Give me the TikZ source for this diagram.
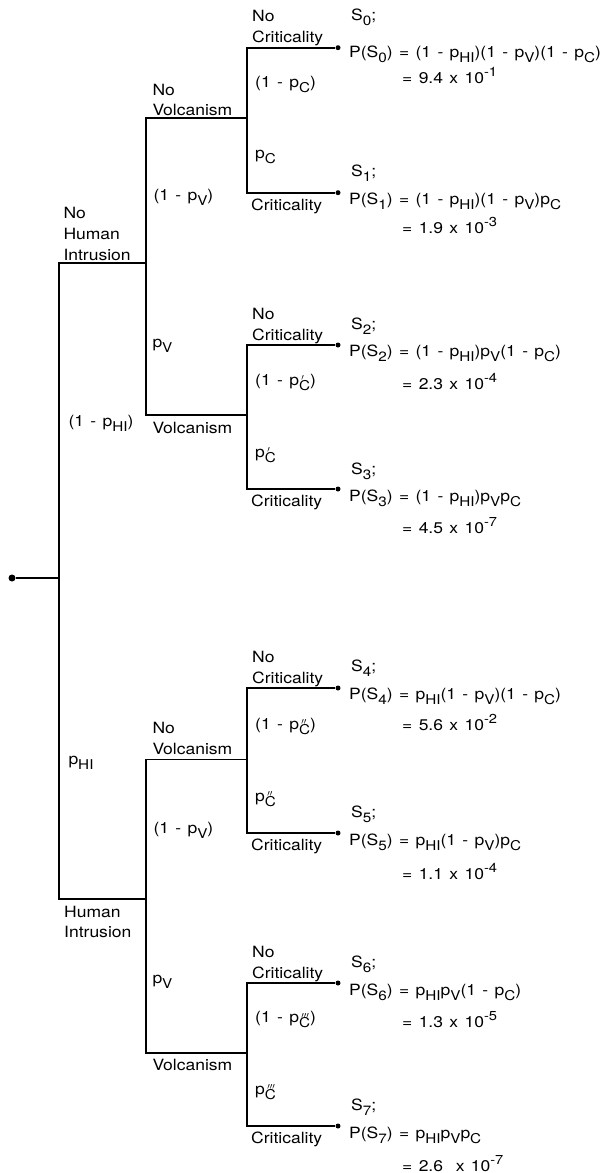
\documentclass[tikz,border=0pt]{standalone}
\usepackage{fontspec}
\setmainfont{TeX Gyre Heros}[FakeStretch=1.13, WordSpace=1.3]
\newcommand{\lsub}[1]{\raisebox{-0.34em}{\fontsize{13.5}{13.5}\selectfont #1}}
\newcommand{\lsup}[1]{\raisebox{0.42em}{\fontsize{13}{13}\selectfont #1}}
\newcommand{\pmark}[1]{p\lsub{\makebox[0pt][l]{\hspace{0.18em}\raisebox{0.7em}{$\scriptstyle #1$}}C}}
\begin{document}
\begin{tikzpicture}[x=1pt,y=-1pt,
  txt/.style={anchor=base west, inner sep=0pt, font=\fontsize{15.5}{18}\selectfont},
  leaf/.style={circle, fill=black, inner sep=0pt, minimum size=5pt},
  rootdot/.style={circle, fill=black, inner sep=0pt, minimum size=7pt},
  branch/.style={draw=black, line width=1.8pt}]
\fill[white] (0,0) rectangle (603,1173);
\useasboundingbox (0,0) rectangle (603,1173);

% tree skeleton
\node[rootdot] (root) at (12,578) {};
\coordinate (j0) at (59.3,578);
\coordinate (hiN) at (145.7,263);
\coordinate (hiY) at (145.7,899);
\coordinate (vN0) at (246.7,118);
\coordinate (vY0) at (246.7,415);
\coordinate (vN1) at (246.7,759.5);
\coordinate (vY1) at (246.7,1053);
\node[leaf] (s0) at (338,47.7) {};
\node[leaf] (s1) at (338,192.7) {};
\node[leaf] (s2) at (338,345) {};
\node[leaf] (s3) at (338,489) {};
\node[leaf] (s4) at (338,688) {};
\node[leaf] (s5) at (338,833) {};
\node[leaf] (s6) at (338,983) {};
\node[leaf] (s7) at (338,1126) {};

\draw[branch] (root) -- (j0);
\draw[branch] (j0) |- (hiN);
\draw[branch] (j0) |- (hiY);
\draw[branch] (hiN) |- (vN0);
\draw[branch] (hiN) |- (vY0);
\draw[branch] (hiY) |- (vN1);
\draw[branch] (hiY) |- (vY1);
\draw[branch] (vN0) |- (s0);
\draw[branch] (vN0) |- (s1);
\draw[branch] (vY0) |- (s2);
\draw[branch] (vY0) |- (s3);
\draw[branch] (vN1) |- (s4);
\draw[branch] (vN1) |- (s5);
\draw[branch] (vY1) |- (s6);
\draw[branch] (vY1) |- (s7);

% human intrusion level
\node[txt] (tNHIa) at (63.3,218) {No};
\node[txt] (tNHIb) at (63.3,239) {Human};
\node[txt] (tNHIc) at (63.3,260) {Intrusion};
\node[txt] (tpNHI) at (68.3,426.7) {(1 - p\lsub{HI})};
\node[txt] (tpHI) at (68.3,764) {p\lsub{HI}};
\node[txt] (tHIa) at (64,917) {Human};
\node[txt] (tHIb) at (64,937) {Intrusion};

% volcanism level
\node[txt] (tNV0a) at (152.3,95) {No};
\node[txt] (tNV0b) at (152.3,115) {Volcanism};
\node[txt] (tpNV0) at (153.3,200.7) {(1 - p\lsub{V})};
\node[txt] (tpV0) at (152.3,347) {p\lsub{V}};
\node[txt] (tV0) at (152.3,433) {Volcanism};
\node[txt] (tNV1a) at (152.3,733) {No};
\node[txt] (tNV1b) at (152.3,754) {Volcanism};
\node[txt] (tpNV1) at (153.3,833) {(1 - p\lsub{V})};
\node[txt] (tpV1) at (152.3,983) {p\lsub{V}};
\node[txt] (tV1) at (152.3,1070) {Volcanism};

% criticality level
\node[txt] (tNC0a) at (252,21.7) {No};
\node[txt] (tNC0b) at (252,42.7) {Criticality};
\node[txt] (tpNC0) at (255,87.3) {(1 - p\lsub{C})};
\node[txt] (tpC0) at (255,158.5) {p\lsub{C}};
\node[txt] (tC0) at (251,210.2) {Criticality};

\node[txt] (tNC1a) at (252,319) {No};
\node[txt] (tNC1b) at (252,340) {Criticality};
\node[txt] (tpNC1) at (255,385) {(1 - \pmark{\prime})};
\node[txt] (tpC1) at (255,457) {\pmark{\prime}};
\node[txt] (tC1) at (251,506.5) {Criticality};

\node[txt] (tNC2a) at (252,662) {No};
\node[txt] (tNC2b) at (252,683) {Criticality};
\node[txt] (tpNC2) at (255,729) {(1 - \pmark{\prime\prime})};
\node[txt] (tpC2) at (255,801) {\pmark{\prime\prime}};
\node[txt] (tC2) at (251,850.5) {Criticality};

\node[txt] (tNC3a) at (252,957) {No};
\node[txt] (tNC3b) at (252,978) {Criticality};
\node[txt] (tpNC3) at (255,1022.5) {(1 - \pmark{\prime\prime\prime})};
\node[txt] (tpC3) at (255,1094) {\pmark{\prime\prime\prime}};
\node[txt] (tC3) at (251,1143.5) {Criticality};

% outcomes
\node[txt] (S0) at (351,20.7) {S\lsub{0};};
\node[txt] (P0) at (349,57.3) {P(S\lsub{0}) = (1 - p\lsub{HI})(1 - p\lsub{V})(1 - p\lsub{C})};
\node[txt] (V0) at (402,83) {= 9.4 x 10\lsup{-1}};

\node[txt] (S1) at (351,176.7) {S\lsub{1};};
\node[txt] (P1) at (349,204) {P(S\lsub{1}) = (1 - p\lsub{HI})(1 - p\lsub{V})p\lsub{C}};
\node[txt] (V1) at (402,233) {= 1.9 x 10\lsup{-3}};

\node[txt] (S2) at (351,329) {S\lsub{2};};
\node[txt] (P2) at (349,356) {P(S\lsub{2}) = (1 - p\lsub{HI})p\lsub{V}(1 - p\lsub{C})};
\node[txt] (V2) at (402,389) {= 2.3 x 10\lsup{-4}};

\node[txt] (S3) at (351,474) {S\lsub{3};};
\node[txt] (P3) at (349,501) {P(S\lsub{3}) = (1 - p\lsub{HI})p\lsub{V}p\lsub{C}};
\node[txt] (V3) at (402,533) {= 4.5 x 10\lsup{-7}};

\node[txt] (S4) at (351,671) {S\lsub{4};};
\node[txt] (P4) at (349,699) {P(S\lsub{4}) = p\lsub{HI}(1 - p\lsub{V})(1 - p\lsub{C})};
\node[txt] (V4) at (402,730) {= 5.6 x 10\lsup{-2}};

\node[txt] (S5) at (351,817) {S\lsub{5};};
\node[txt] (P5) at (349,845) {P(S\lsub{5}) = p\lsub{HI}(1 - p\lsub{V})p\lsub{C}};
\node[txt] (V5) at (402,879) {= 1.1 x 10\lsup{-4}};

\node[txt] (S6) at (351,967) {S\lsub{6};};
\node[txt] (P6) at (349,995) {P(S\lsub{6}) = p\lsub{HI}p\lsub{V}(1 - p\lsub{C})};
\node[txt] (V6) at (402,1027) {= 1.3 x 10\lsup{-5}};

\node[txt] (S7) at (351,1110) {S\lsub{7};};
\node[txt] (P7) at (349,1138) {P(S\lsub{7}) = p\lsub{HI}p\lsub{V}p\lsub{C}};
\node[txt] (V7) at (402,1171) {= 2.6 \ x 10\lsup{-7}};
\end{tikzpicture}
\end{document}
